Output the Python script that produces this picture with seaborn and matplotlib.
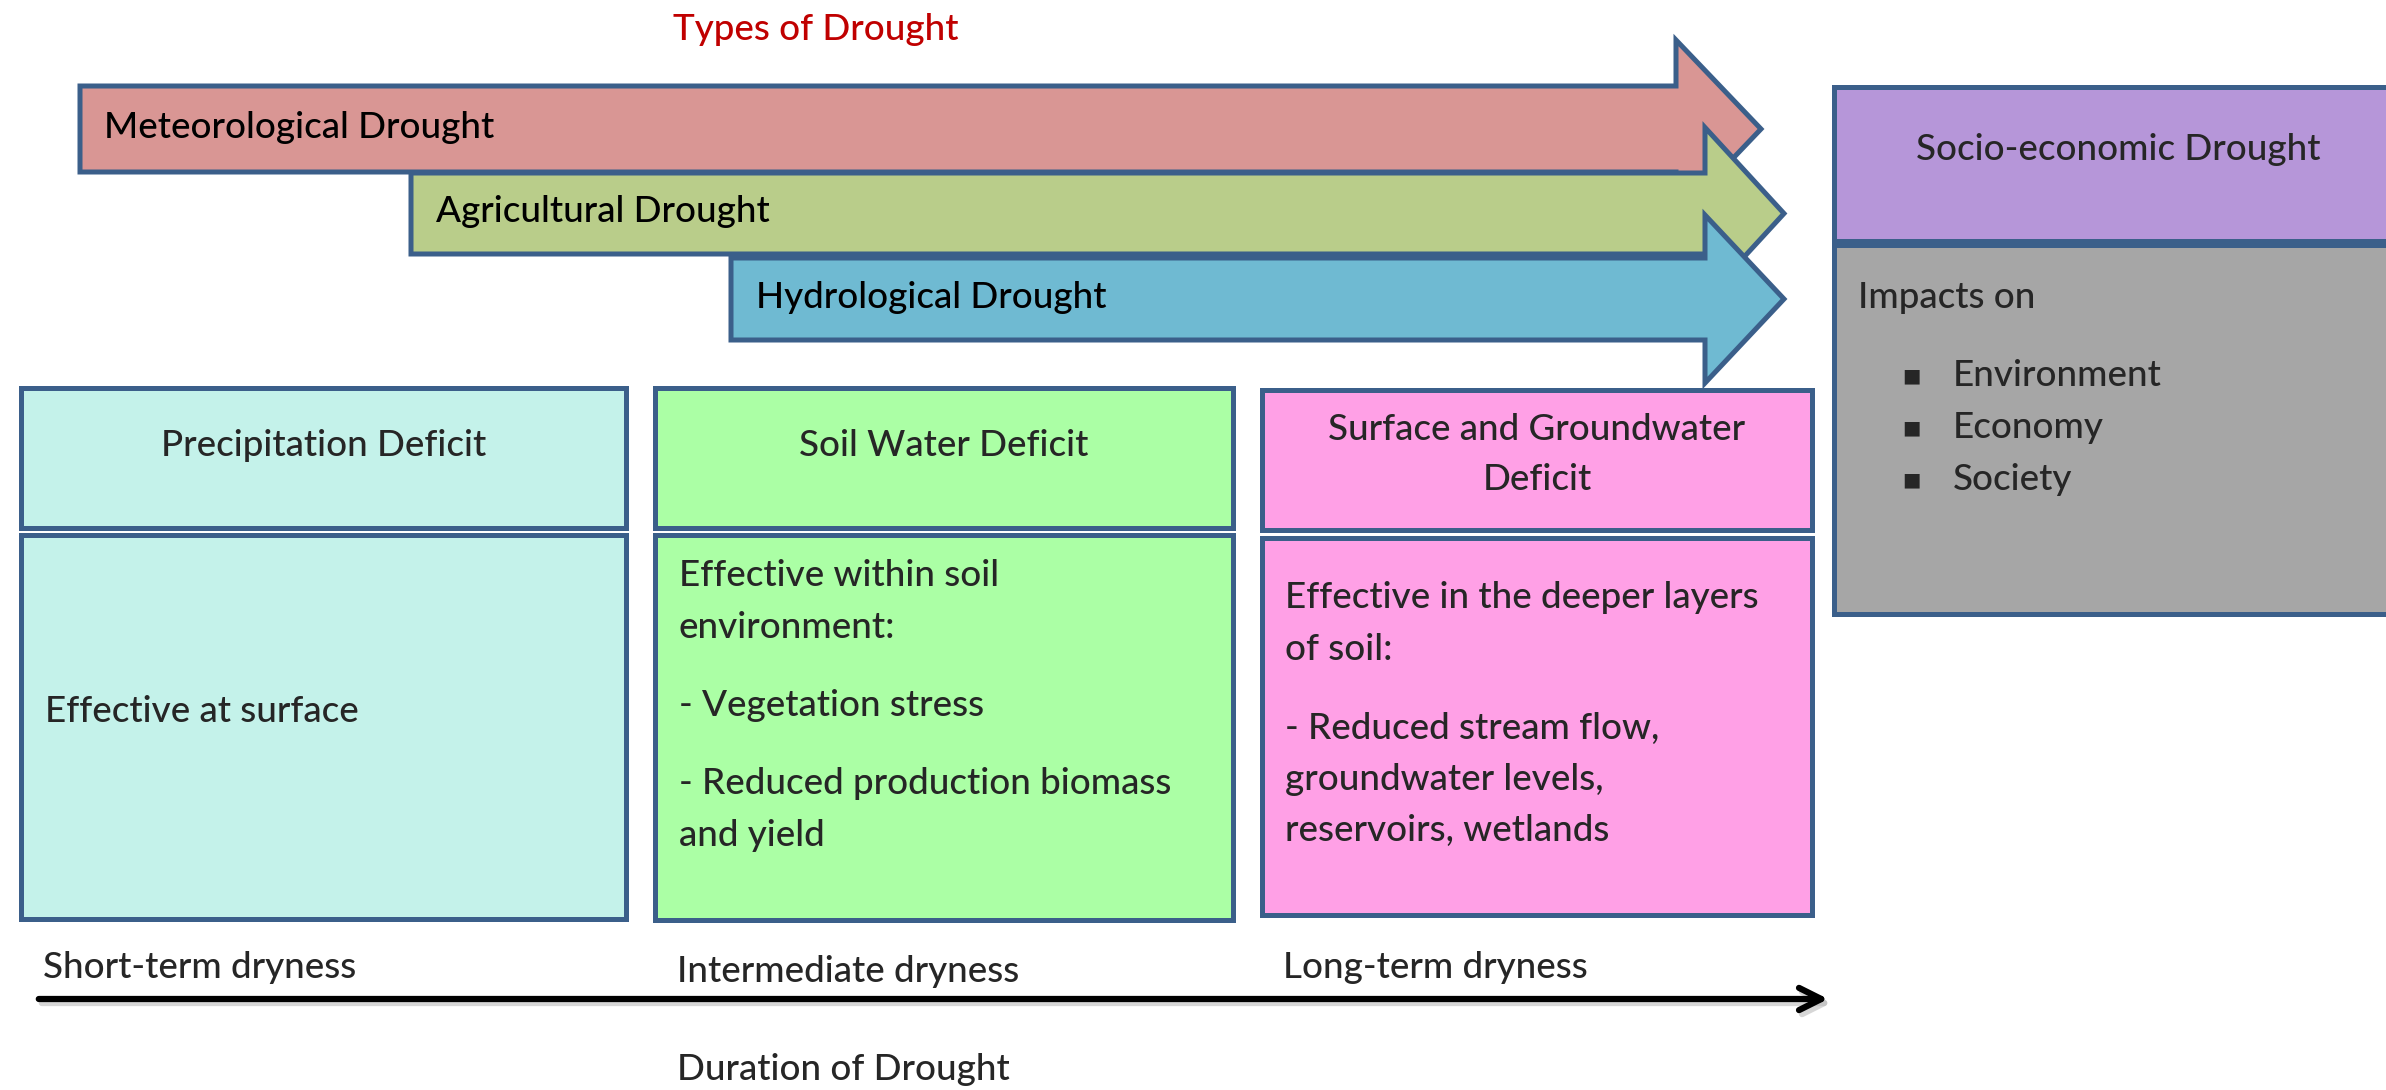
import matplotlib
matplotlib.use("Agg")
import matplotlib.pyplot as plt
from matplotlib.patches import Polygon, Rectangle
import seaborn as sns

# ---------------- data ----------------
title_text = "Types of Drought"
drought_types = ["Meteorological Drought", "Agricultural Drought", "Hydrological Drought"]
drought_colors = ["#D99694", "#B9CD8A", "#6FBAD2"]
socio_title = "Socio-economic Drought"
impacts_header = "Impacts on"
impacts = ["Environment", "Economy", "Society"]
deficit_titles = ["Precipitation Deficit", "Soil Water Deficit", "Surface and Groundwater\nDeficit"]
deficit_colors = ["#C4F2EA", "#ABFFA5", "#FFA0E6"]
deficit_bodies = [
    ["Effective at surface"],
    ["Effective within soil", "environment:", "", "- Vegetation stress", "", "- Reduced production biomass", "and yield"],
    ["Effective in the deeper layers", "of soil:", "", "- Reduced stream flow,", "groundwater levels,", "reservoirs, wetlands"],
]
duration_labels = ["Short-term dryness", "Intermediate dryness", "Long-term dryness"]
axis_label = "Duration of Drought"

# ---------------- style ----------------
sns.set_theme(style="white")
plt.rcParams["font.family"] = ["Lato", "DejaVu Sans"]
plt.rcParams["font.weight"] = "medium"
EDGE = "#3B5F8A"
LW = 3.6
FS = 26.5

fig = plt.figure(figsize=(23.86, 10.9), dpi=100)
ax = fig.add_axes([0, 0, 1, 1])
ax.set_xlim(0, 2386)
ax.set_ylim(1090, 0)
ax.axis("off")

# title
ax.text(816, 29, title_text, color="#C00000", fontsize=FS, ha="center", va="center")

# drought arrows: (left, top, bottom, head_base_x, tip_x, head_half)
arrow_geo = [
    (80, 86, 172, 1676, 1761, 89),
    (411, 173, 254, 1705, 1784, 86),
    (731, 258, 340, 1705, 1784, 84),
]
label_x = [104, 436, 756]
for (l, t, b, hx, tx, hh), col, name, lx in zip(arrow_geo, drought_colors, drought_types, label_x):
    cy = (t + b) / 2
    pts = [(l, t), (hx, t), (hx, cy - hh), (tx, cy), (hx, cy + hh), (hx, b), (l, b)]
    ax.add_patch(Polygon(pts, closed=True, facecolor=col, edgecolor=EDGE, lw=LW, joinstyle="miter"))
    ax.text(lx, cy - 2, name, fontsize=FS, ha="left", va="center", color="black")

# socio-economic box
ax.add_patch(Rectangle((1834, 87), 700, 154, facecolor="#B696D9", edgecolor=EDGE, lw=LW))
ax.add_patch(Rectangle((1834, 245), 700, 369, facecolor="#A6A6A6", edgecolor=EDGE, lw=LW))
ax.text(2118, 150, socio_title, fontsize=FS, ha="center", va="center")
ax.text(1858, 298, impacts_header, fontsize=FS, ha="left", va="center")
for i, item in enumerate(impacts):
    y = 376 + i * 52
    ax.text(1911, y, "\u25a0", fontsize=14, ha="center", va="center", family="DejaVu Sans")
    ax.text(1953, y, item, fontsize=FS, ha="left", va="center")

# deficit boxes
box_x = [(21, 626), (655, 1233), (1262, 1812)]
top_y = [(388, 528), (388, 528), (390, 530)]
low_y = [(535, 919), (535, 920), (538, 915)]
for (x0, x1), (t0, t1), (b0, b1), col, ttl, body in zip(box_x, top_y, low_y, deficit_colors, deficit_titles, deficit_bodies):
    ax.add_patch(Rectangle((x0, t0), x1 - x0, t1 - t0, facecolor=col, edgecolor=EDGE, lw=LW))
    ax.add_patch(Rectangle((x0, b0), x1 - x0, b1 - b0, facecolor=col, edgecolor=EDGE, lw=LW))
    if "\n" in ttl:
        for j, part in enumerate(ttl.split("\n")):
            ax.text((x0 + x1) / 2, 429 + j * 51, part, fontsize=FS, ha="center", va="center")
    else:
        ax.text((x0 + x1) / 2, 445, ttl, fontsize=FS, ha="center", va="center")

# body texts
ax.text(45, 712, deficit_bodies[0][0], fontsize=FS, ha="left", va="center")
soil_y = [575, 628, None, 705, None, 784, 835]
for line, y in zip(deficit_bodies[1], soil_y):
    if y is not None:
        ax.text(679, y, line, fontsize=FS, ha="left", va="center")
surf_y = [597, 649, None, 728, 779, 830]
for line, y in zip(deficit_bodies[2], surf_y):
    if y is not None:
        ax.text(1285, y, line, fontsize=FS, ha="left", va="center")

# duration axis
ax.annotate("", xy=(1834, 1003), xytext=(39, 1003),
            arrowprops=dict(arrowstyle="->", color="#BBBBBB", lw=4.5, mutation_scale=40, alpha=0.6))
ax.annotate("", xy=(1831, 999), xytext=(36, 999),
            arrowprops=dict(arrowstyle="->", color="black", lw=4.5, mutation_scale=40))
for lbl, x, y in zip(duration_labels, [43, 677, 1283], [967, 971, 967]):
    ax.text(x, y, lbl, fontsize=FS, ha="left", va="center")
ax.text(677, 1070, axis_label, fontsize=FS, ha="left", va="center")

fig.savefig("out.png", dpi=100)
